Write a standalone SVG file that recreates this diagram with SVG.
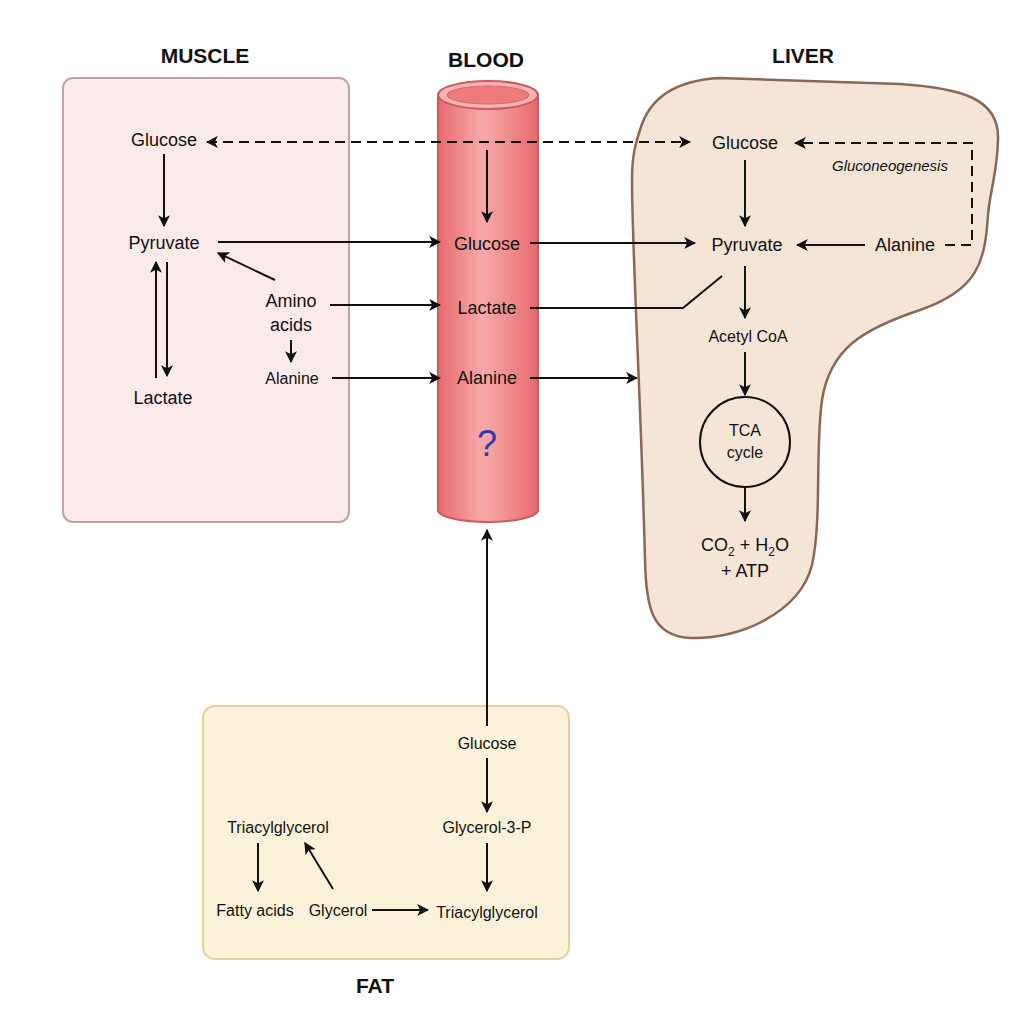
<svg xmlns="http://www.w3.org/2000/svg" width="1024" height="1024" viewBox="0 0 1024 1024">
<defs>
<marker id="ah" viewBox="0 0 10 10" refX="9" refY="5" markerWidth="12" markerHeight="12" markerUnits="userSpaceOnUse" orient="auto-start-reverse"><path d="M0,0 L10,5 L0,10 L2.5,5 Z" fill="#111"/></marker>
<linearGradient id="tube" x1="0" y1="0" x2="1" y2="0">
<stop offset="0" stop-color="#e86b6e"/><stop offset="0.45" stop-color="#f8a9a9"/><stop offset="1" stop-color="#e66a6c"/>
</linearGradient>
<style>
.t{font-family:"Liberation Sans",Arial,sans-serif;font-size:18px;fill:#111;text-anchor:middle}
.s{font-size:16px}
.h{font-family:"Liberation Sans",Arial,sans-serif;font-size:21px;font-weight:bold;fill:#111;text-anchor:middle}
.c{stroke:#111;stroke-width:2;fill:none}
.a{marker-end:url(#ah)}
.d{stroke-dasharray:10,6}
</style>
</defs>
<rect width="1024" height="1024" fill="#ffffff"/>

<g id="muscle">
<rect x="63" y="78" width="286" height="444" rx="10" fill="#fbeaea" stroke="#c9a0a0" stroke-width="2"/>
<text class="h" x="205" y="63">MUSCLE</text>
<text class="t" x="164" y="146">Glucose</text>
<text class="t" x="164" y="249">Pyruvate</text>
<text class="t" x="163" y="404">Lactate</text>
<text class="t" x="291" y="307">Amino</text>
<text class="t" x="291" y="331">acids</text>
<text class="t s" x="292" y="384">Alanine</text>
</g>

<g id="blood">
<path d="M438,95 L438,510 A50,12 0 0 0 538,510 L538,95 Z" fill="url(#tube)" stroke="#cc5a5e" stroke-width="2"/>
<ellipse cx="488" cy="95" rx="50" ry="14" fill="#f7b3b3" stroke="#cc5a5e" stroke-width="2"/>
<ellipse cx="488" cy="95" rx="41" ry="9" fill="#ef7a7c" stroke="#d86668" stroke-width="1"/>
<text class="h" x="486" y="67">BLOOD</text>
<text class="t" x="487" y="250">Glucose</text>
<text class="t" x="487" y="314">Lactate</text>
<text class="t" x="487" y="384">Alanine</text>
<text x="487" y="456" font-family="Liberation Sans,Arial,sans-serif" font-size="36" fill="#2a3bb5" text-anchor="middle">?</text>
</g>

<g id="liver">
<path d="M640,130 C650,95 680,80 720,78 L900,84 C960,88 1000,98 998,140 C997,175 990,190 988,215 C985,262 978,290 920,310 C860,330 830,350 822,400 C815,450 822,520 812,565 C800,612 740,640 690,638 C652,636 646,608 645,560 C641,400 632,250 632,180 C632,155 636,142 640,130 Z" fill="#f5e5d6" stroke="#8a6858" stroke-width="2.5"/>
<text class="h" x="803" y="63">LIVER</text>
<text class="t" x="745" y="149">Glucose</text>
<text class="t" x="747" y="251">Pyruvate</text>
<text class="t" x="905" y="251">Alanine</text>
<text x="890" y="171" font-family="Liberation Sans,Arial,sans-serif" font-size="15" font-style="italic" fill="#111" text-anchor="middle">Gluconeogenesis</text>
<text class="t s" x="748" y="342">Acetyl CoA</text>
<circle cx="745" cy="442" r="45" fill="none" stroke="#111" stroke-width="2"/>
<text class="t s" x="745" y="436">TCA</text>
<text class="t s" x="745" y="458">cycle</text>
<text class="t" x="745" y="551">CO<tspan font-size="12" dy="5">2</tspan><tspan dy="-5"> + H</tspan><tspan font-size="12" dy="5">2</tspan><tspan dy="-5">O</tspan></text>
<text class="t" x="745" y="577">+ ATP</text>
</g>

<g id="fat">
<rect x="203" y="706" width="366" height="253" rx="12" fill="#fcf1d9" stroke="#e6cf9c" stroke-width="2"/>
<text class="h" x="375" y="993">FAT</text>
<text class="t s" x="487" y="749">Glucose</text>
<text class="t s" x="487" y="833">Glycerol-3-P</text>
<text class="t s" x="487" y="918">Triacylglycerol</text>
<text class="t s" x="278" y="833">Triacylglycerol</text>
<text class="t s" x="255" y="916">Fatty acids</text>
<text class="t s" x="338" y="916">Glycerol</text>
</g>

<g id="connectors">
<!-- muscle -->
<line class="c a" x1="164" y1="154" x2="164" y2="226"/>
<line class="c a" x1="156" y1="378" x2="156" y2="262"/>
<line class="c a" x1="167" y1="262" x2="167" y2="376"/>
<line class="c a" x1="275" y1="280" x2="218" y2="253"/>
<line class="c a" x1="291" y1="340" x2="291" y2="362"/>
<!-- muscle to blood -->
<line class="c a" x1="218" y1="242" x2="440" y2="242"/>
<line class="c a" x1="330" y1="305" x2="440" y2="305"/>
<line class="c a" x1="332" y1="378" x2="440" y2="378"/>
<!-- dashed glucose muscle <-> liver -->
<line class="c a d" x1="207" y1="142" x2="690" y2="142" style="marker-start:url(#ah)"/>
<line class="c a" x1="487" y1="150" x2="487" y2="222"/>
<!-- blood to liver -->
<line class="c a" x1="530" y1="243" x2="695" y2="243"/>
<polyline class="c" points="530,308 683,308 722,276"/>
<line class="c a" x1="530" y1="378" x2="637" y2="378"/>
<!-- liver -->
<line class="c a" x1="745" y1="160" x2="745" y2="226"/>
<line class="c a" x1="865" y1="245" x2="797" y2="245"/>
<polyline class="c a d" points="945,245 972,245 972,143 795,143"/>
<line class="c a" x1="745" y1="266" x2="745" y2="318"/>
<line class="c a" x1="745" y1="352" x2="745" y2="395"/>
<line class="c a" x1="745" y1="488" x2="745" y2="521"/>
<!-- fat -->
<line class="c a" x1="487" y1="726" x2="487" y2="530"/>
<line class="c a" x1="487" y1="758" x2="487" y2="812"/>
<line class="c a" x1="487" y1="843" x2="487" y2="891"/>
<line class="c a" x1="258" y1="843" x2="258" y2="891"/>
<line class="c a" x1="333" y1="889" x2="305" y2="843"/>
<line class="c a" x1="372" y1="910" x2="428" y2="910"/>
</g>
</svg>
